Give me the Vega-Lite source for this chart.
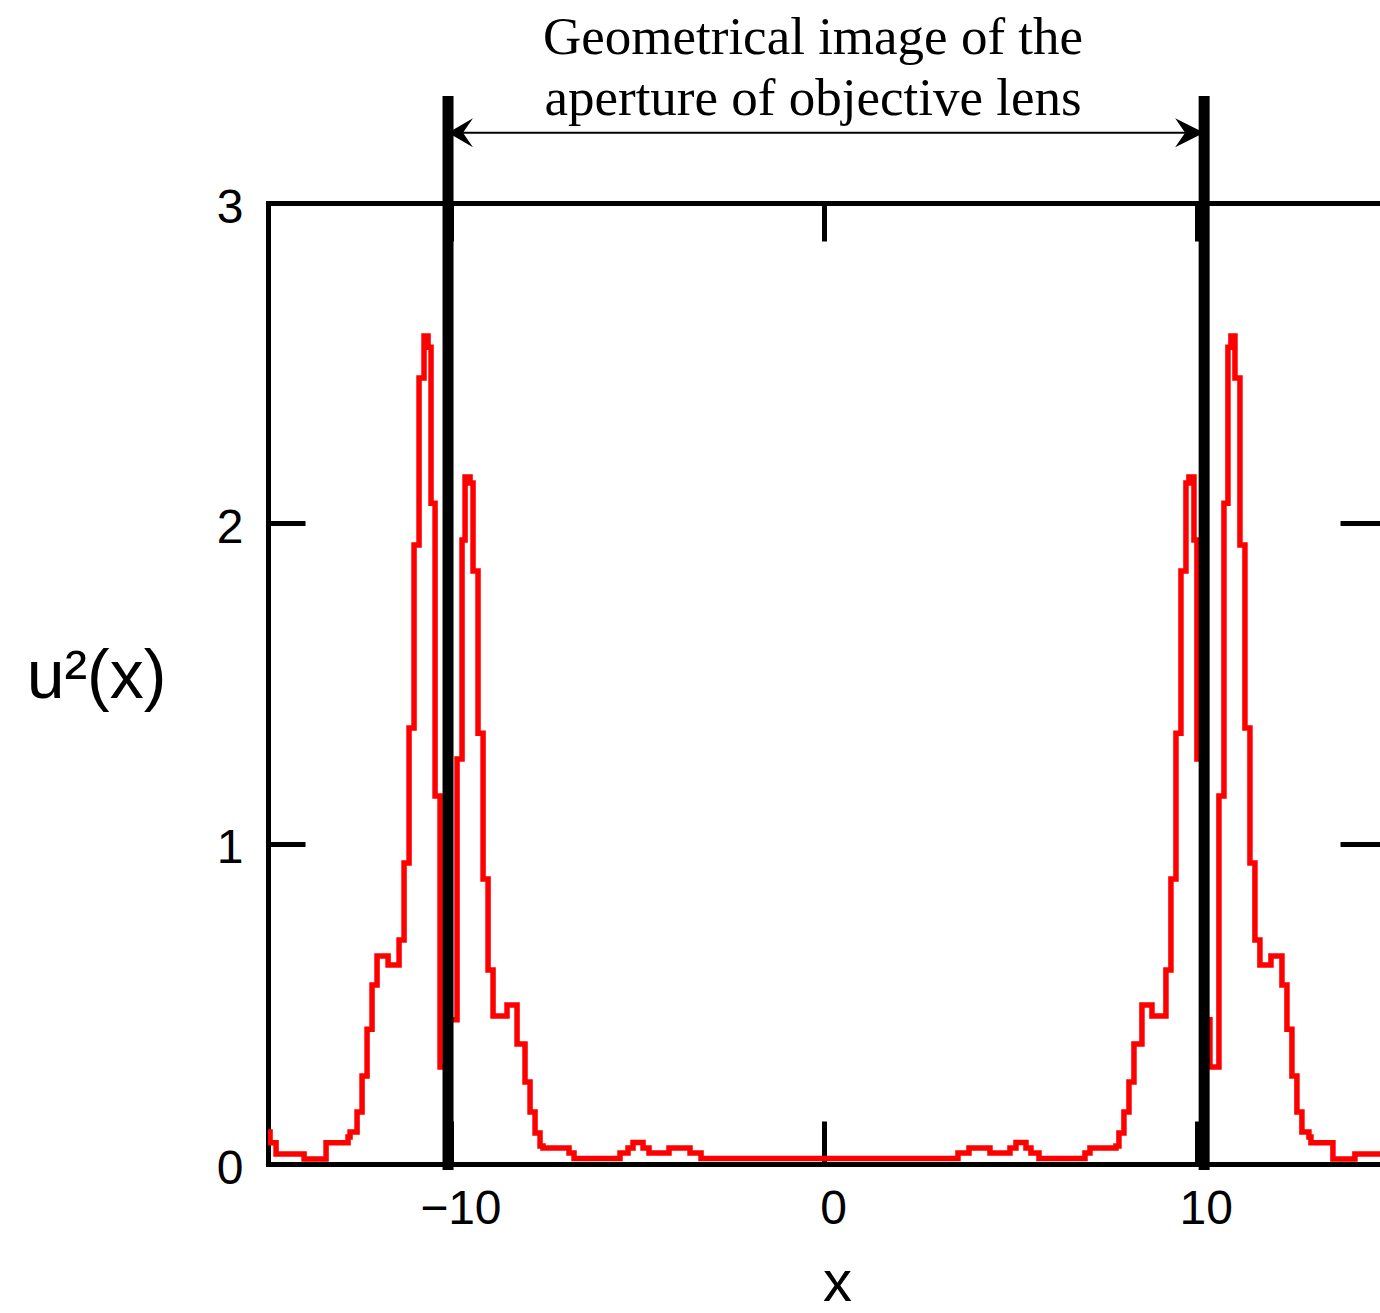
{
  "$schema": "https://vega.github.io/schema/vega-lite/v6.json",
  "width": 1112,
  "height": 961,
  "autosize": {"type": "none"},
  "padding": {"left": 268, "top": 203, "right": 0, "bottom": 149},
  "background": "white",
  "title": {
    "text": ["Geometrical image of the", "aperture of objective lens"],
    "orient": "top",
    "anchor": "middle",
    "frame": "group",
    "baseline": "bottom",
    "dx": -11,
    "offset": -88,
    "font": "Liberation Serif",
    "fontSize": 53,
    "fontWeight": "normal",
    "lineHeight": 61,
    "color": "black"
  },
  "datasets": {
    "curve": [
      {"x": -15.079, "u2": 0.100},
      {"x": -14.865, "u2": 0.066},
      {"x": -14.704, "u2": 0.031},
      {"x": -13.952, "u2": 0.016},
      {"x": -13.362, "u2": 0.066},
      {"x": -12.772, "u2": 0.084},
      {"x": -12.718, "u2": 0.100},
      {"x": -12.530, "u2": 0.162},
      {"x": -12.396, "u2": 0.275},
      {"x": -12.262, "u2": 0.421},
      {"x": -12.128, "u2": 0.559},
      {"x": -11.994, "u2": 0.649},
      {"x": -11.698, "u2": 0.621},
      {"x": -11.403, "u2": 0.699},
      {"x": -11.269, "u2": 0.940},
      {"x": -11.135, "u2": 1.361},
      {"x": -11.001, "u2": 1.932},
      {"x": -10.867, "u2": 2.454},
      {"x": -10.733, "u2": 2.585},
      {"x": -10.625, "u2": 2.550},
      {"x": -10.545, "u2": 2.063},
      {"x": -10.437, "u2": 1.149},
      {"x": -10.303, "u2": 0.303},
      {"x": -10.062, "u2": 0.450},
      {"x": -9.847, "u2": 1.264},
      {"x": -9.713, "u2": 1.948},
      {"x": -9.632, "u2": 2.145},
      {"x": -9.498, "u2": 2.126},
      {"x": -9.418, "u2": 1.851},
      {"x": -9.284, "u2": 1.345},
      {"x": -9.149, "u2": 0.890},
      {"x": -9.015, "u2": 0.606},
      {"x": -8.881, "u2": 0.462},
      {"x": -8.506, "u2": 0.496},
      {"x": -8.237, "u2": 0.375},
      {"x": -8.023, "u2": 0.256},
      {"x": -7.888, "u2": 0.162},
      {"x": -7.754, "u2": 0.097},
      {"x": -7.620, "u2": 0.056},
      {"x": -7.540, "u2": 0.050},
      {"x": -6.842, "u2": 0.034},
      {"x": -6.708, "u2": 0.017},
      {"x": -5.474, "u2": 0.034},
      {"x": -5.259, "u2": 0.050},
      {"x": -5.125, "u2": 0.067},
      {"x": -4.856, "u2": 0.050},
      {"x": -4.695, "u2": 0.034},
      {"x": -4.159, "u2": 0.050},
      {"x": -3.595, "u2": 0.034},
      {"x": -3.300, "u2": 0.017},
      {"x": 3.595, "u2": 0.034},
      {"x": 3.891, "u2": 0.050},
      {"x": 4.454, "u2": 0.034},
      {"x": 4.991, "u2": 0.050},
      {"x": 5.152, "u2": 0.067},
      {"x": 5.420, "u2": 0.050},
      {"x": 5.554, "u2": 0.034},
      {"x": 5.769, "u2": 0.017},
      {"x": 7.003, "u2": 0.034},
      {"x": 7.137, "u2": 0.050},
      {"x": 7.835, "u2": 0.056},
      {"x": 7.915, "u2": 0.097},
      {"x": 8.049, "u2": 0.162},
      {"x": 8.184, "u2": 0.256},
      {"x": 8.318, "u2": 0.375},
      {"x": 8.532, "u2": 0.496},
      {"x": 8.801, "u2": 0.462},
      {"x": 9.176, "u2": 0.606},
      {"x": 9.310, "u2": 0.890},
      {"x": 9.445, "u2": 1.345},
      {"x": 9.579, "u2": 1.851},
      {"x": 9.713, "u2": 2.126},
      {"x": 9.793, "u2": 2.145},
      {"x": 9.928, "u2": 1.948},
      {"x": 10.008, "u2": 1.264},
      {"x": 10.142, "u2": 0.450},
      {"x": 10.357, "u2": 0.303},
      {"x": 10.598, "u2": 1.149},
      {"x": 10.733, "u2": 2.063},
      {"x": 10.840, "u2": 2.550},
      {"x": 10.920, "u2": 2.585},
      {"x": 11.028, "u2": 2.454},
      {"x": 11.162, "u2": 1.932},
      {"x": 11.296, "u2": 1.361},
      {"x": 11.430, "u2": 0.940},
      {"x": 11.564, "u2": 0.699},
      {"x": 11.698, "u2": 0.621},
      {"x": 11.994, "u2": 0.649},
      {"x": 12.289, "u2": 0.559},
      {"x": 12.423, "u2": 0.421},
      {"x": 12.557, "u2": 0.275},
      {"x": 12.691, "u2": 0.162},
      {"x": 12.825, "u2": 0.100},
      {"x": 13.013, "u2": 0.084},
      {"x": 13.067, "u2": 0.066},
      {"x": 13.657, "u2": 0.016},
      {"x": 14.247, "u2": 0.031},
      {"x": 14.999, "u2": 0.066},
      {"x": 15.160, "u2": 0.100},
      {"x": 15.374, "u2": 0.100}
    ],
    "aperture": [
      {"x": -10.089},
      {"x": 10.201}
    ]
  },
  "resolve": {"axis": {"x": "independent", "y": "independent"}},
  "layer": [
    {
      "data": {"name": "curve"},
      "mark": {"type": "line", "interpolate": "step-after", "color": "#ff0000", "strokeWidth": 5.5, "clip": true, "strokeJoin": "miter"},
      "encoding": {
        "x": {
          "field": "x", "type": "quantitative",
          "scale": {"domain": [-14.92, 14.92], "nice": false, "zero": false},
          "axis": {
            "orient": "bottom",
            "values": [-10, 0, 10],
            "title": "x",
            "titleFont": "Liberation Sans",
            "titleFontSize": 58,
            "titleFontWeight": "normal",
            "titleX": 569,
            "titleY": 136,
            "titleAlign": "center",
            "titleBaseline": "alphabetic",
            "titleAnchor": null,
            "domain": true,
            "domainWidth": 5,
            "domainCap": "square",
            "ticks": true,
            "tickSize": -43,
            "tickWidth": 5,
            "labelFont": "Liberation Sans",
            "labelFontSize": 48,
            "labelPadding": 64,
            "labelOffset": 9,
            "labelFlush": false,
            "labelExpr": "datum.value < 0 ? '\u2212' + format(-datum.value, 'd') : format(datum.value, 'd')"
          }
        },
        "y": {
          "field": "u2", "type": "quantitative",
          "scale": {"domain": [0, 3], "nice": false, "zero": false},
          "axis": {
            "orient": "left",
            "values": [0, 1, 2, 3],
            "title": "u²(x)",
            "titleFont": "Liberation Sans",
            "titleFontSize": 68,
            "titleFontWeight": "normal",
            "titleAngle": 0,
            "titleX": -172,
            "titleY": 494,
            "titleAlign": "center",
            "titleBaseline": "alphabetic",
            "titleAnchor": null,
            "domain": true,
            "domainWidth": 5,
            "domainCap": "square",
            "ticks": true,
            "tickSize": -37,
            "tickWidth": 5,
            "labelFont": "Liberation Sans",
            "labelFontSize": 48,
            "labelPadding": 62,
            "labelOffset": 5,
            "labelBaseline": "middle",
            "labelFlush": false,
            "format": "d"
          }
        }
      }
    },
    {
      "data": {"name": "curve"},
      "mark": {"type": "point", "opacity": 0},
      "encoding": {
        "x": {
          "field": "x", "type": "quantitative",
          "scale": {"domain": [-14.92, 14.92], "nice": false, "zero": false},
          "axis": {
            "orient": "top",
            "values": [-10, 0, 10],
            "title": null,
            "labels": false,
            "domain": true,
            "domainWidth": 5,
            "domainCap": "square",
            "ticks": true,
            "tickSize": -38,
            "tickWidth": 5
          }
        },
        "y": {
          "field": "u2", "type": "quantitative",
          "scale": {"domain": [0, 3], "nice": false, "zero": false},
          "axis": {
            "orient": "right",
            "values": [0, 1, 2, 3],
            "title": null,
            "labels": false,
            "domain": false,
            "ticks": true,
            "tickSize": -40,
            "tickWidth": 5
          }
        }
      }
    },
    {
      "data": {"name": "aperture"},
      "mark": {"type": "rule", "color": "black", "strokeWidth": 11, "strokeCap": "butt"},
      "encoding": {
        "x": {"field": "x", "type": "quantitative", "axis": null},
        "y": {"datum": -0.019, "axis": null},
        "y2": {"datum": 3.334}
      }
    },
    {
      "data": {"name": "aperture"},
      "transform": [
        {"aggregate": [
          {"op": "min", "field": "x", "as": "x1"},
          {"op": "max", "field": "x", "as": "x2"}
        ]}
      ],
      "mark": {"type": "rule", "color": "black", "strokeWidth": 2},
      "encoding": {
        "x": {"field": "x1", "type": "quantitative", "axis": null},
        "x2": {"field": "x2"},
        "y": {"datum": 3.2195, "axis": null}
      }
    },
    {
      "data": {"name": "aperture"},
      "mark": {"type": "point", "filled": true, "color": "black", "opacity": 1, "size": 841, "strokeWidth": 0},
      "encoding": {
        "x": {"field": "x", "type": "quantitative", "axis": null},
        "y": {"datum": 3.2195, "axis": null},
        "shape": {
          "condition": {"test": "datum.x < 0", "value": "M 0 0 L 1.72 -1 L 1.03 0 L 1.72 1 Z"},
          "value": "M 0 0 L -2 -1 L -1.31 0 L -2 1 Z"
        }
      }
    }
  ],
  "config": {
    "view": {"stroke": null},
    "axis": {
      "grid": false,
      "domainColor": "black",
      "tickColor": "black",
      "labelColor": "black",
      "titleColor": "black",
      "tickCap": "butt"
    }
  }
}
